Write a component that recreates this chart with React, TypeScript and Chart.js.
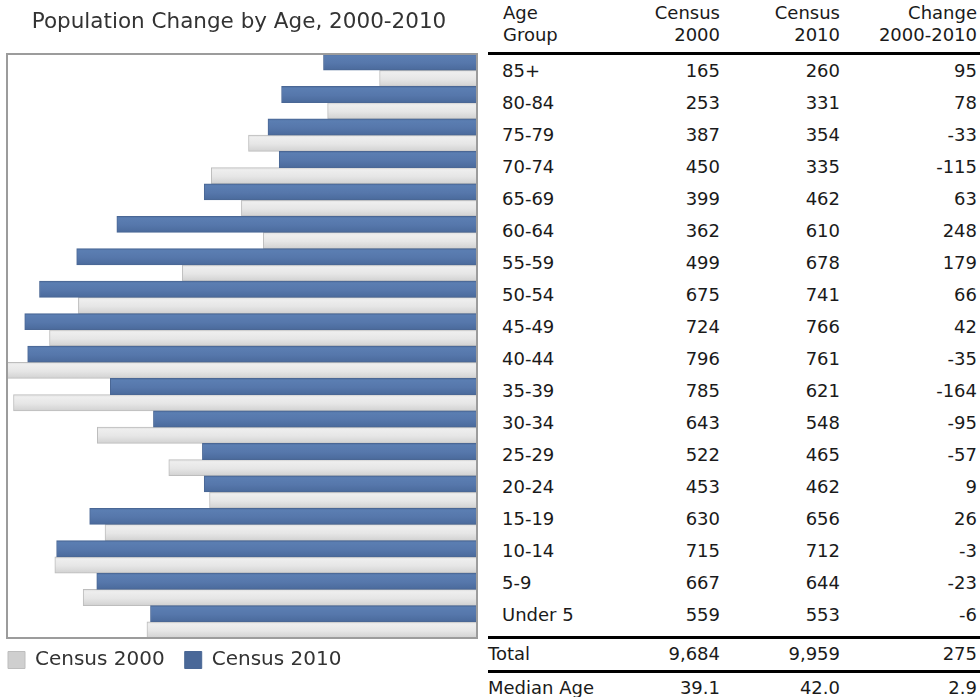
import React, { useEffect, useRef } from "react";
import { Chart, registerables } from "chart.js";

Chart.register(...registerables);

const FONT = "'DejaVu Sans', Verdana, sans-serif";

const ageGroups = ["85+", "80-84", "75-79", "70-74", "65-69", "60-64", "55-59", "50-54", "45-49", "40-44", "35-39", "30-34", "25-29", "20-24", "15-19", "10-14", "5-9", "Under 5"];
const census2000 = [165, 253, 387, 450, 399, 362, 499, 675, 724, 796, 785, 643, 522, 453, 630, 715, 667, 559];
const census2010 = [260, 331, 354, 335, 462, 610, 678, 741, 766, 761, 621, 548, 465, 462, 656, 712, 644, 553];
const change = [95, 78, -33, -115, 63, 248, 179, 66, 42, -35, -164, -95, -57, 9, 26, -3, -23, -6];
const totalRow = ["Total", "9,684", "9,959", "275"];
const medianRow = ["Median Age", "39.1", "42.0", "2.9"];
const headerLine1 = ["Age", "Census", "Census", "Change"];
const headerLine2 = ["Group", "2000", "2010", "2000-2010"];
const seriesNames = ["Census 2010", "Census 2000"];

const BLUE_STOPS: [number, string][] = [[0, "#4e6e9f"], [0.12, "#5b7eb2"], [0.55, "#5677ab"], [0.9, "#4d6d9f"], [1, "#4a6898"]];
const GRAY_STOPS: [number, string][] = [[0, "#dedede"], [0.15, "#eeeeee"], [0.55, "#e6e6e6"], [0.9, "#d6d6d6"], [1, "#cfcfcf"]];

const PLOT_BOTTOM = 638;
const LEGEND_PAD = 20;
const LEGEND_FONT = 20;
const LEGEND_CENTER_Y = 660;

function barFill(stops: [number, string][], flat: string, slot: number) {
  return (c: any) => {
    if (c.type !== "data") return flat;
    const chart = c.chart;
    const ys = chart.scales && chart.scales.y;
    const area = chart.chartArea;
    if (!ys || !area || !area.bottom) return flat;
    const center = ys.getPixelForValue(c.dataIndex);
    const stride = (area.bottom - area.top) / ageGroups.length;
    const top = slot === 0 ? center - stride / 2 : center;
    const g = chart.ctx.createLinearGradient(0, top, 0, top + stride / 2);
    stops.forEach(([o, col]) => g.addColorStop(o, col));
    return g;
  };
}

const plotBorder = {
  id: "plotBorder",
  afterDatasetsDraw(chart: any) {
    const { ctx, chartArea: a } = chart;
    ctx.save();
    ctx.strokeStyle = "#9c9c9c";
    ctx.lineWidth = 2;
    ctx.strokeRect(a.left, a.top, a.right - a.left, a.bottom - a.top);
    ctx.restore();
  },
};

const boxPlacement = {
  id: "boxPlacement",
  afterLayout(chart: any) {
    const lg = chart.legend;
    if (lg) {
      lg.left = 8 - LEGEND_PAD;
      lg.top = LEGEND_CENTER_Y - LEGEND_PAD - LEGEND_FONT / 2;
    }
    if (chart.titleBlock) {
      chart.titleBlock.left -= 3;
      chart.titleBlock.right -= 3;
    }
  },
};

function PopChart() {
  const ref = useRef<HTMLCanvasElement | null>(null);
  useEffect(() => {
    if (!ref.current) return;
    const maxVal = Math.max(...census2000, ...census2010);
    const chart = new Chart(ref.current, {
      type: "bar",
      data: {
        labels: ageGroups,
        datasets: [
          {
            label: seriesNames[0],
            data: census2010,
            backgroundColor: barFill(BLUE_STOPS, "#5677ab", 0) as any,
            borderColor: "#4a6795",
            borderWidth: 1,
            categoryPercentage: 1,
            barPercentage: 1,
          },
          {
            label: seriesNames[1],
            data: census2000,
            backgroundColor: barFill(GRAY_STOPS, "#dedede", 1) as any,
            borderColor: "#bdbdbd",
            borderWidth: 1,
            categoryPercentage: 1,
            barPercentage: 1,
          },
        ],
      },
      options: {
        indexAxis: "y",
        responsive: false,
        animation: false,
        layout: { padding: { left: 7, right: 3, top: 0, bottom: 0 } },
        scales: {
          x: { display: false, reverse: true, min: 0, max: maxVal },
          y: { display: false },
        },
        plugins: {
          title: {
            display: true,
            text: "Population Change by Age, 2000-2010",
            color: "#333333",
            font: { family: FONT, size: 21.5, weight: "normal" },
            padding: { top: 10, bottom: 18.2 },
          },
          legend: {
            display: true,
            position: "bottom",
            align: "start",
            reverse: true,
            labels: {
              color: "#333333",
              font: { family: FONT, size: LEGEND_FONT },
              boxWidth: 17,
              boxHeight: 17,
              padding: LEGEND_PAD,
            },
          },
          tooltip: { enabled: false },
        },
      },
      plugins: [plotBorder, boxPlacement],
    });
    const diff = chart.chartArea.bottom - PLOT_BOTTOM;
    if (Math.abs(diff) > 0.25) {
      (chart.options.layout as any).padding = { left: 7, right: 3, top: 0, bottom: diff };
      chart.update();
    }
    return () => chart.destroy();
  }, []);
  return <canvas ref={ref} width={480} height={760} style={{ position: "absolute", left: 0, top: 0 }} />;
}

const COL_RIGHT = [0, 720, 840, 977];
const textBase: React.CSSProperties = {
  position: "absolute",
  fontFamily: FONT,
  fontSize: 18,
  color: "#1a1a1a",
  whiteSpace: "nowrap",
};

function Cell({ text, col, top, height, indent }: { text: string; col: number; top: number; height: number; indent: number }) {
  if (col === 0) {
    return <div style={{ ...textBase, left: 488 + indent, top, height, lineHeight: `${height}px` }}>{text}</div>;
  }
  return (
    <div style={{ ...textBase, left: COL_RIGHT[col] - 200, width: 200, textAlign: "right", top, height, lineHeight: `${height}px` }}>
      {text}
    </div>
  );
}

function Rule({ top }: { top: number }) {
  return <div style={{ position: "absolute", left: 488, width: 492, top, height: 3, background: "#000" }} />;
}

function Table() {
  const ROW_TOP = 55;
  const ROW_H = 32;
  const cells: React.ReactNode[] = [];
  headerLine1.forEach((t, i) => cells.push(<Cell key={"h1" + i} text={t} col={i} top={2} height={22} indent={i === 0 ? 15 : 0} />));
  headerLine2.forEach((t, i) => cells.push(<Cell key={"h2" + i} text={t} col={i} top={24} height={22} indent={i === 0 ? 15 : 0} />));
  ageGroups.forEach((g, r) => {
    const top = ROW_TOP + r * ROW_H;
    const vals = [g, String(census2000[r]), String(census2010[r]), String(change[r])];
    vals.forEach((v, i) => cells.push(<Cell key={`r${r}c${i}`} text={v} col={i} top={top} height={ROW_H} indent={14} />));
  });
  totalRow.forEach((v, i) => cells.push(<Cell key={"t" + i} text={v} col={i} top={639} height={30} indent={0} />));
  medianRow.forEach((v, i) => cells.push(<Cell key={"m" + i} text={v} col={i} top={673} height={30} indent={0} />));
  return (
    <>
      <Rule top={52} />
      {cells}
      <Rule top={636} />
      <Rule top={670} />
    </>
  );
}

export default function App() {
  return (
    <div style={{ position: "absolute", left: 0, top: 0, width: 980, height: 697, background: "#fff", overflow: "hidden" }}>
      <PopChart />
      <Table />
    </div>
  );
}
